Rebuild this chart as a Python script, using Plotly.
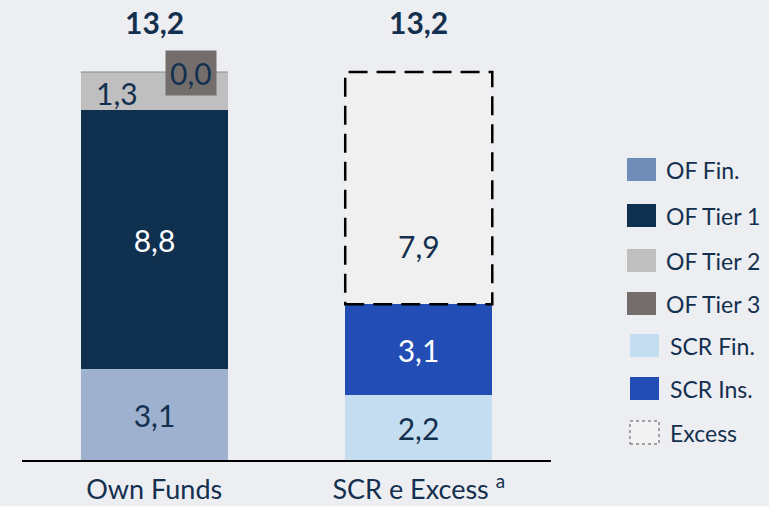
import plotly.graph_objects as go

# ---- data ----
categories = ["Own Funds", "SCR e Excess <sup>a</sup>"]
of_fin = [3.1, None]
of_tier1 = [8.8, None]
of_tier2 = [1.3, None]
of_tier3 = [0.0, None]
scr_fin = [None, 2.2]
scr_ins = [None, 3.1]
excess = [None, 7.9]
totals = [13.2, 13.2]
legend_labels = ["OF Fin.", "OF Tier 1", "OF Tier 2", "OF Tier 3", "SCR Fin.", "SCR Ins.", "Excess"]

# ---- style ----
BG = "#edeef2"
NAVY = "#14304f"
C_OFFIN = "#9eb1cf"
C_OFFIN_LEG = "#6f8db7"
C_T1 = "#10304f"
C_T2 = "#bfbfbf"
C_T3 = "#736e6c"
C_SCRFIN = "#c5ddf0"
C_SCRINS = "#214db5"
C_EXC = "#eff0ef"
FONT = "Lato"
W = 769; H = 506
ML, MR, MT, MB = 22, 218, 0, 46
PW = W - ML - MR
PH = H - MT - MB
BARW = 0.556
YMAX = 15.65

xs = [0, 1]
fig = go.Figure()

def add_bar(vals, color, name, textcolor, show_text=True):
    kw = {}
    if show_text:
        kw = dict(texttemplate="%{y:.1f}", textposition="inside", insidetextanchor="middle",
                  textangle=0, textfont=dict(family=FONT, size=30, color=textcolor))
    else:
        kw = dict(textposition="none")
    fig.add_trace(go.Bar(
        x=xs, y=vals, name=name, marker=dict(color=color, line=dict(width=0)),
        width=BARW, showlegend=False, hoverinfo="skip", **kw))

add_bar(of_fin, C_OFFIN, "OF Fin.", NAVY)
add_bar(of_tier1, C_T1, "OF Tier 1", "white")
add_bar(of_tier2, C_T2, "OF Tier 2", NAVY, show_text=False)
add_bar(of_tier3, C_T3, "OF Tier 3", NAVY, show_text=False)
add_bar(scr_fin, C_SCRFIN, "SCR Fin.", NAVY)
add_bar(scr_ins, C_SCRINS, "SCR Ins.", "white")
add_bar(excess, C_EXC, "Excess", NAVY, show_text=False)

def fmt(v):
    return f"{v:.1f}".replace(".", ",")

# top of Own Funds stack
of_top = of_fin[0] + of_tier1[0] + of_tier2[0]
fig.add_shape(type="line", x0=-BARW / 2, x1=BARW / 2, y0=of_top, y1=of_top,
              line=dict(color="#8a8a8a", width=1.2))
# Tier 2 label (left) and Tier 3 label (boxed, right)
fig.add_annotation(x=xs[0] - 0.14, y=of_fin[0] + of_tier1[0] + of_tier2[0] / 2, text=fmt(of_tier2[0]),
                   showarrow=False, yshift=-2, font=dict(family=FONT, size=30, color=NAVY))
fig.add_annotation(x=xs[0] + 0.14, y=of_top + of_tier3[0], text=fmt(of_tier3[0]),
                   showarrow=False, bgcolor=C_T3, borderpad=4, yshift=-1,
                   font=dict(family=FONT, size=30, color=NAVY))

# Excess dashed border + label
exc_base = scr_fin[1] + scr_ins[1]
fig.add_shape(type="rect", x0=xs[1] - BARW / 2, x1=xs[1] + BARW / 2, y0=exc_base, y1=exc_base + excess[1],
              line=dict(color="black", width=2.5, dash="19px,9px"), fillcolor="rgba(0,0,0,0)")
fig.add_annotation(x=xs[1], y=exc_base + excess[1] * 0.25, text=fmt(excess[1]), showarrow=False,
                   font=dict(family=FONT, size=30, color=NAVY))

# totals
for x, t in zip(xs, totals):
    fig.add_annotation(x=x, y=t, text=f"<b>{fmt(t)}</b>", showarrow=False, yshift=50,
                       font=dict(family=FONT, size=30, color=NAVY))

# ---- manual legend ----
def px_x(px):
    return (px - ML) / PW

def px_y(py):
    return (H - MB - py) / PH

leg_colors = [C_OFFIN_LEG, C_T1, C_T2, C_T3, C_SCRFIN, C_SCRINS, "#f2f2f2"]
leg_centers = [169.5, 215.5, 260.5, 303.5, 345.5, 388.5, 432.5]
for i, (lab, col, cy) in enumerate(zip(legend_labels, leg_colors, leg_centers)):
    x0 = 627 if i < 4 else 630
    tx = 664 if i < 4 else 668
    line = dict(width=0)
    if lab == "Excess":
        line = dict(color="#555555", width=1, dash="dot")
    fig.add_shape(type="rect", xref="paper", yref="paper",
                  x0=px_x(x0), x1=px_x(x0 + 29), y0=px_y(cy + 11.5), y1=px_y(cy - 11.5),
                  fillcolor=col, line=line)
    fig.add_annotation(xref="paper", yref="paper", x=px_x(tx), y=px_y(cy), text=lab,
                       xanchor="left", yanchor="middle", showarrow=False,
                       font=dict(family=FONT, size=23, color=NAVY))

fig.update_layout(
    width=W, height=H, barmode="stack", separators=",.",
    paper_bgcolor=BG, plot_bgcolor=BG,
    margin=dict(l=ML, r=MR, t=MT, b=MB),
    showlegend=False, bargap=0,
    xaxis=dict(range=[-0.5, 1.5], tickvals=xs, ticktext=categories, showgrid=False, zeroline=False,
               showline=True, linecolor="black", linewidth=1.5, ticks="", ticklabelstandoff=5,
               tickfont=dict(family=FONT, size=27, color=NAVY), fixedrange=True),
    yaxis=dict(range=[0, YMAX], visible=False, showgrid=False, zeroline=False, fixedrange=True),
)

fig.write_html("out.html", config={"displayModeBar": False},
               post_script="document.body.style.margin='0';document.body.style.background='%s';" % BG)
